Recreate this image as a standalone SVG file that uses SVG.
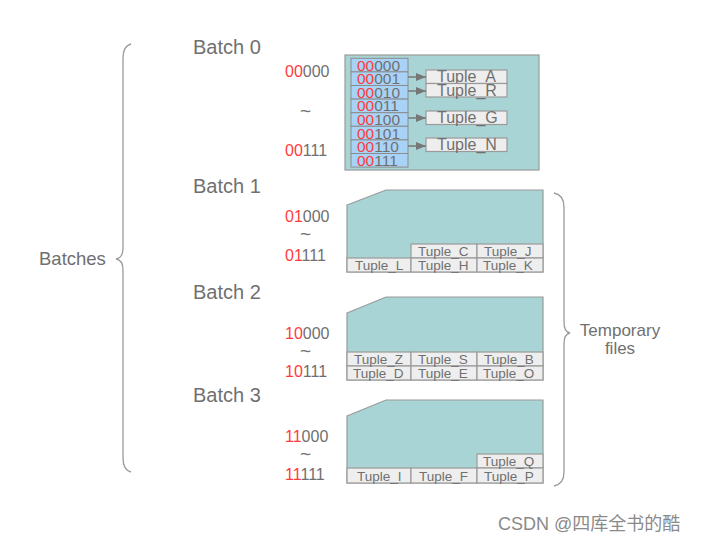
<svg xmlns="http://www.w3.org/2000/svg" width="703" height="541" viewBox="0 0 703 541">
<defs>
<style>
text{font-family:"Liberation Sans",Arial,sans-serif;fill:#707070}
.lbl{font-size:20px}
.num{font-size:16px}
.r{fill:#ff3b3b}
.file{fill:#a9d4d5;stroke:#9a9a9a;stroke-width:1.2}
.col{fill:#a8d3f6;stroke:#8c8c8c;stroke-width:1}
.tup{fill:#eeeeee;stroke:#9a9a9a;stroke-width:1.2}
.t0{font-size:16px}
.t1{font-size:13.5px}
.cn{font-size:15.5px}
.brace{fill:none;stroke:#9a9a9a;stroke-width:1.3}
.arr{stroke:#777;stroke-width:1.5;fill:none;marker-end:url(#ah)}
</style>
<marker id="ah" markerWidth="10" markerHeight="8" refX="10" refY="4" orient="auto" markerUnits="userSpaceOnUse">
<path d="M0,0 L10,4 L0,8 Z" fill="#777"/>
</marker>
</defs>
<rect width="703" height="541" fill="#ffffff"/>

<g id="batches-brace">
<path class="brace" d="M131,44 Q123,46 123,58 L123,248 Q123,258 116,259 Q123,260 123,270 L123,458 Q123,470 131,472"/>
<text x="39" y="265" style="font-size:18.5px">Batches</text>
</g>

<g id="labels">
<text class="lbl" x="193" y="54">Batch 0</text>
<text class="lbl" x="193" y="193">Batch 1</text>
<text class="lbl" x="193" y="299">Batch 2</text>
<text class="lbl" x="193" y="402">Batch 3</text>
</g>

<g id="ranges">
<text class="num" x="285" y="77"><tspan class="r">00</tspan>000</text>
<text class="num" x="300" y="117" style="font-size:19px">~</text>
<text class="num" x="285" y="156"><tspan class="r">00</tspan>111</text>
<text class="num" x="285" y="222"><tspan class="r">01</tspan>000</text>
<text class="num" x="300" y="240" style="font-size:19px">~</text>
<text class="num" x="285" y="261"><tspan class="r">01</tspan>111</text>
<text class="num" x="285" y="339"><tspan class="r">10</tspan>000</text>
<text class="num" x="300" y="357" style="font-size:19px">~</text>
<text class="num" x="285" y="377"><tspan class="r">10</tspan>111</text>
<text class="num" x="285" y="442"><tspan class="r">11</tspan>000</text>
<text class="num" x="300" y="460" style="font-size:19px">~</text>
<text class="num" x="285" y="480"><tspan class="r">11</tspan>111</text>
</g>

<g id="batch0">
<rect class="file" x="345" y="55" width="194" height="115"/>
<rect class="col" x="351" y="58.3" width="57" height="13.6"/>
<rect class="col" x="351" y="71.9" width="57" height="13.6"/>
<rect class="col" x="351" y="85.5" width="57" height="13.6"/>
<rect class="col" x="351" y="99.1" width="57" height="13.6"/>
<rect class="col" x="351" y="112.7" width="57" height="13.6"/>
<rect class="col" x="351" y="126.3" width="57" height="13.6"/>
<rect class="col" x="351" y="139.9" width="57" height="13.6"/>
<rect class="col" x="351" y="153.5" width="57" height="13.6"/>
<text class="cn" x="357" y="70.5"><tspan class="r">00</tspan>000</text>
<text class="cn" x="357" y="84.1"><tspan class="r">00</tspan>001</text>
<text class="cn" x="357" y="97.7"><tspan class="r">00</tspan>010</text>
<text class="cn" x="357" y="111.3"><tspan class="r">00</tspan>011</text>
<text class="cn" x="357" y="124.9"><tspan class="r">00</tspan>100</text>
<text class="cn" x="357" y="138.5"><tspan class="r">00</tspan>101</text>
<text class="cn" x="357" y="152.1"><tspan class="r">00</tspan>110</text>
<text class="cn" x="357" y="165.7"><tspan class="r">00</tspan>111</text>
<rect class="tup" x="426" y="70" width="81" height="13.5"/>
<text class="t0" x="437" y="82">Tuple_A</text>
<rect class="tup" x="426" y="83.5" width="81" height="13.5"/>
<text class="t0" x="437" y="95.5">Tuple_R</text>
<rect class="tup" x="426" y="111" width="81" height="13.5"/>
<text class="t0" x="437" y="123">Tuple_G</text>
<rect class="tup" x="426" y="138" width="81" height="13.5"/>
<text class="t0" x="437" y="150">Tuple_N</text>
</g>

<g id="connectors">
<line class="arr" x1="408" y1="77" x2="426" y2="77"/>
<line class="arr" x1="408" y1="91" x2="426" y2="91"/>
<line class="arr" x1="408" y1="118" x2="426" y2="118"/>
<line class="arr" x1="408" y1="146" x2="426" y2="146"/>
</g>

<g id="batch1">
<polygon class="file" points="347,205 386,190 543,190 543,272 347,272"/>
<rect class="tup" x="411" y="244" width="66" height="14"/>
<rect class="tup" x="477" y="244" width="66" height="14"/>
<rect class="tup" x="347" y="258" width="64" height="14"/>
<rect class="tup" x="411" y="258" width="66" height="14"/>
<rect class="tup" x="477" y="258" width="66" height="14"/>
<text class="t1" x="418" y="256">Tuple_C</text>
<text class="t1" x="484" y="256">Tuple_J</text>
<text class="t1" x="355" y="270">Tuple_L</text>
<text class="t1" x="418" y="270">Tuple_H</text>
<text class="t1" x="483" y="270">Tuple_K</text>
</g>

<g id="batch2">
<polygon class="file" points="347,313 386,297 543,297 543,380 347,380"/>
<rect class="tup" x="347" y="352" width="64" height="14"/>
<rect class="tup" x="411" y="352" width="66" height="14"/>
<rect class="tup" x="477" y="352" width="66" height="14"/>
<rect class="tup" x="347" y="366" width="64" height="14"/>
<rect class="tup" x="411" y="366" width="66" height="14"/>
<rect class="tup" x="477" y="366" width="66" height="14"/>
<text class="t1" x="354" y="364">Tuple_Z</text>
<text class="t1" x="418" y="364">Tuple_S</text>
<text class="t1" x="484" y="364">Tuple_B</text>
<text class="t1" x="353" y="378">Tuple_D</text>
<text class="t1" x="418" y="378">Tuple_E</text>
<text class="t1" x="483" y="378">Tuple_O</text>
</g>

<g id="batch3">
<polygon class="file" points="347,416 386,400 543,400 543,483 347,483"/>
<rect class="tup" x="477" y="454" width="66" height="14"/>
<rect class="tup" x="347" y="468" width="64" height="15"/>
<rect class="tup" x="411" y="468" width="66" height="15"/>
<rect class="tup" x="477" y="468" width="66" height="15"/>
<text class="t1" x="483" y="466">Tuple_Q</text>
<text class="t1" x="357" y="481">Tuple_I</text>
<text class="t1" x="419" y="481">Tuple_F</text>
<text class="t1" x="484" y="481">Tuple_P</text>
</g>

<g id="temp-brace">
<path class="brace" d="M554,193 Q564,195 564,207 L564,322 Q564,332 570,333 Q564,334 564,344 L564,472 Q564,484 554,486"/>
<text x="620" y="336" text-anchor="middle" style="font-size:17px">Temporary</text>
<text x="620" y="354" text-anchor="middle" style="font-size:17px">files</text>
</g>

<g id="watermark">
<text x="498" y="530" style="font-size:18px;fill:#8a8a8a;font-family:'Liberation Sans','Noto Sans CJK SC',sans-serif">CSDN @四库全书的酷</text>
</g>
</svg>
